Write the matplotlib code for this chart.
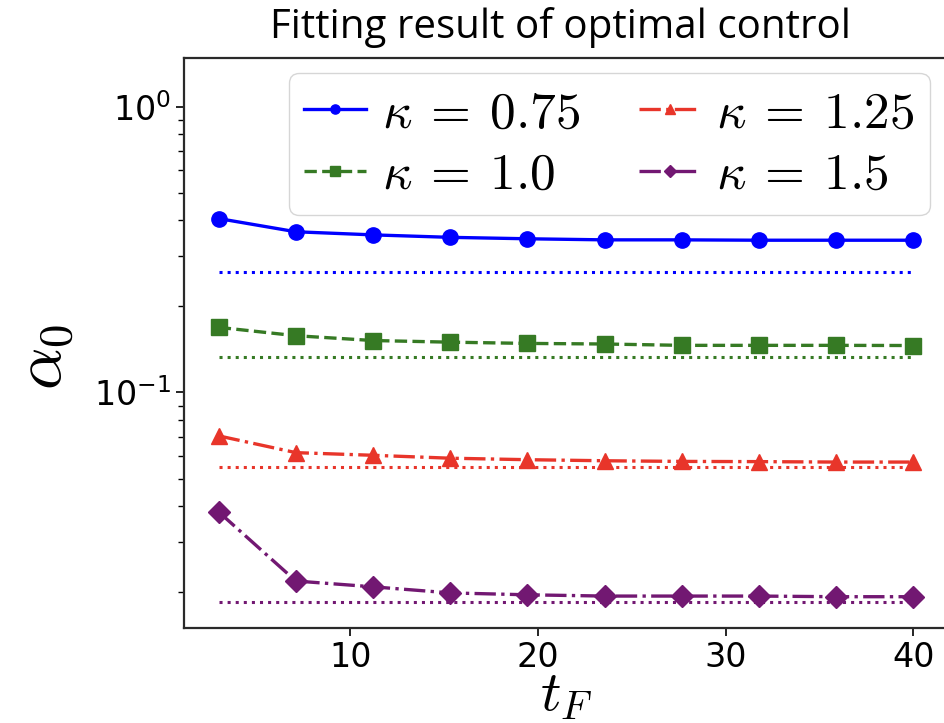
import numpy as np
import matplotlib
matplotlib.use("Agg")
import matplotlib.pyplot as plt

plt.rcParams['mathtext.fontset'] = 'cm'

t_F = [3.0, 7.11, 11.22, 15.33, 19.44, 23.56, 27.67, 31.78, 35.89, 40.0]
kappas = ["0.75", "1.0", "1.25", "1.5"]
alpha_075 = [0.406, 0.365, 0.356, 0.349, 0.345, 0.342, 0.342, 0.341, 0.341, 0.341]
alpha_100 = [0.169, 0.158, 0.152, 0.150, 0.1485, 0.1478, 0.1462, 0.1462, 0.1462, 0.1460]
alpha_125 = [0.0705, 0.0616, 0.0603, 0.0589, 0.0582, 0.0577, 0.0574, 0.0573, 0.0571, 0.0571]
alpha_150 = [0.0382, 0.0219, 0.0209, 0.0199, 0.0196, 0.0194, 0.0194, 0.0194, 0.0193, 0.0193]
limit_vals = [0.264, 0.1326, 0.0548, 0.0185]

series = [alpha_075, alpha_100, alpha_125, alpha_150]
colors = ['#0000ff', '#367a24', '#e8352a', '#721872']
styles = ['-', '--', '-.', '-.']
markers = ['o', 's', '^', 'D']

fig = plt.figure(figsize=(9.44, 7.23), dpi=100)
ax = fig.add_axes([184/944, 1 - 628/723, (948-184)/944, (628-58)/723])

for ys, k, c, ls, m, lim in zip(series, kappas, colors, styles, markers, limit_vals):
    ax.plot(t_F, ys, linestyle=ls, marker=m, color=c, lw=2.4, markersize=11,
            label=r'$\kappa\:=\:%s$' % k)
    ax.plot([t_F[0], t_F[-1]], [lim, lim], linestyle=':', color=c, lw=2.2)

ax.set_yscale('log')
ax.set_ylim(0.015, 1.48)
ax.tick_params(axis='both', labelsize=24, length=6, width=1.2)
ax.tick_params(axis='y', which='minor', length=4, width=1.0)
for s in ax.spines.values():
    s.set_linewidth(1.6)
    s.set_color('#2a2a2a')

ax.set_xlabel(r'$t_F$', fontsize=41, labelpad=-5)
ax.set_ylabel(r'$\alpha_0$', fontsize=48, labelpad=12)
ax.yaxis.label.set_y(0.475)

ax.legend(loc='upper right', ncol=2, fontsize=37, markerscale=0.6,
          handlelength=1.2, columnspacing=1.15, handletextpad=0.3,
          borderpad=0.3, labelspacing=0.22, borderaxespad=0,
          bbox_to_anchor=(0.976, 0.974))

fig.text(560/944, 1 - 28/723, 'Fitting result of optimal control',
         ha='center', va='center', fontsize=29, family='Open Sans')

fig.savefig('out.png', dpi=100)
